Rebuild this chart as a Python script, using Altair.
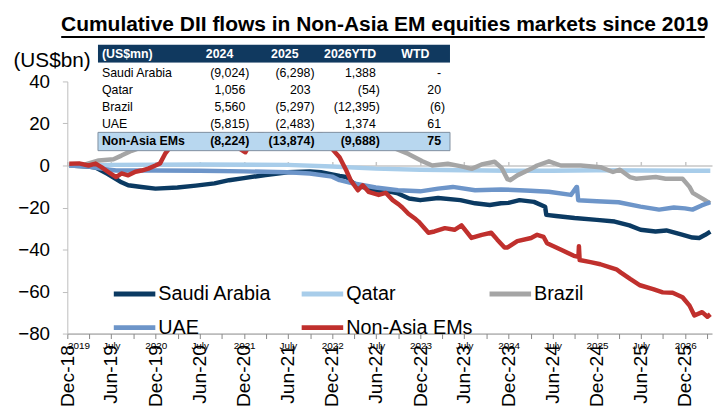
import altair as alt
import pandas as pd

TITLE = "Cumulative DII flows in Non-Asia EM equities markets since 2019"
Y_UNIT = "(US$bn)"

series_names = ["Saudi Arabia", "Qatar", "Brazil", "UAE", "Non-Asia EMs"]
series_colors = ["#0b3a62", "#a8cdea", "#a5a5a5", "#6d95c9", "#c0302d"]

saudi_dates = ["2019-01-08", "2019-02-18", "2019-03-29", "2019-04-27", "2019-06-15", "2019-07-21",
               "2019-08-12", "2019-09-09", "2019-11-03", "2019-12-31", "2020-03-31", "2020-06-15",
               "2020-08-31", "2020-10-31", "2020-12-31", "2021-03-31", "2021-06-30", "2021-09-30",
               "2021-11-15", "2021-12-31", "2022-01-31", "2022-02-28", "2022-03-31", "2022-04-30",
               "2022-06-30", "2022-08-31", "2022-09-30", "2022-11-15", "2022-12-31", "2023-03-15",
               "2023-06-15", "2023-08-15", "2023-10-15", "2023-11-30", "2023-12-31", "2024-02-15",
               "2024-04-15", "2024-05-31", "2024-06-05", "2024-07-15", "2024-09-30", "2024-12-31",
               "2025-03-15", "2025-05-15", "2025-06-30", "2025-08-31", "2025-10-15", "2025-12-15",
               "2026-01-31", "2026-02-28", "2026-03-25", "2026-04-15"]
saudi_values = [0.0, -0.3, -0.5, -1.0, -4.0, -6.5,
                -8.0, -9.4, -10.2, -11.0, -10.5, -9.6,
                -8.5, -7.0, -6.0, -4.5, -3.2, -2.8,
                -3.2, -4.2, -5.0, -5.5, -8.5, -10.0,
                -11.8, -12.5, -13.3, -15.7, -16.5, -15.5,
                -16.5, -18.0, -18.8, -18.0, -17.8, -16.5,
                -17.3, -19.6, -23.5, -24.0, -25.0, -25.9,
                -26.7, -28.5, -30.6, -31.4, -30.9, -32.8,
                -34.3, -34.5, -33.0, -31.5]

qatar_dates = ["2019-01-08", "2019-06-30", "2020-06-30", "2021-06-30", "2021-12-31", "2022-06-30",
               "2022-12-31", "2023-06-30", "2023-12-31", "2024-06-30", "2024-12-31", "2025-06-30",
               "2025-12-31", "2026-04-15"]
qatar_values = [0.0, 0.3, 0.5, 0.3, -0.5, -1.5,
                -2.0, -2.3, -2.5, -2.5, -2.3, -2.4,
                -2.5, -2.5]

brazil_dates = ["2019-01-08", "2019-03-15", "2019-05-10", "2019-07-10", "2019-08-12", "2019-09-23",
                "2019-11-03", "2019-12-31", "2020-06-30", "2020-12-31", "2021-06-30", "2021-12-31",
                "2022-04-30", "2022-07-31", "2022-09-20", "2022-11-12", "2023-01-09", "2023-02-19",
                "2023-04-24", "2023-06-20", "2023-08-01", "2023-09-11", "2023-11-04", "2023-12-02",
                "2023-12-27", "2024-01-08", "2024-02-06", "2024-04-03", "2024-04-28", "2024-06-16",
                "2024-08-04", "2024-10-25", "2025-01-15", "2025-03-08", "2025-04-06", "2025-05-17",
                "2025-06-11", "2025-09-01", "2025-10-12", "2025-12-21", "2026-01-19", "2026-02-01",
                "2026-03-24", "2026-04-14"]
brazil_values = [0.0, 0.5, 2.4, 3.0, 4.7, 7.0,
                 8.6, 14.0, 22.0, 28.0, 32.0, 25.0,
                 16.0, 11.0, 8.0, 5.5, 2.0, 0.0,
                 0.8, -0.4, -1.6, 0.5, 1.8, -1.0,
                 -6.5, -7.0, -4.7, -1.6, 0.0, 2.0,
                 0.0, 0.0, -0.8, -3.1, -2.0, -5.5,
                 -6.3, -5.5, -6.3, -6.3, -10.2, -13.0,
                 -16.5, -18.0]

uae_dates = ["2019-01-08", "2019-03-29", "2019-05-21", "2019-07-21", "2019-12-31", "2020-06-30",
             "2020-12-31", "2021-06-30", "2021-09-30", "2021-12-31", "2022-01-31", "2022-03-31",
             "2022-06-30", "2022-09-30", "2022-12-31", "2023-03-15", "2023-05-15", "2023-08-15",
             "2023-11-30", "2024-03-31", "2024-06-15", "2024-09-15", "2024-10-08", "2024-10-10",
             "2024-10-15", "2024-12-31", "2025-03-31", "2025-06-30", "2025-09-15", "2025-11-15",
             "2025-12-31", "2026-01-31", "2026-03-10", "2026-04-15"]
uae_values = [0.0, -0.5, -1.5, -2.4, -2.4, -2.5,
              -2.8, -3.2, -3.8, -5.3, -7.0, -8.6,
              -10.5, -11.8, -12.3, -11.0, -10.2, -11.8,
              -11.4, -12.0, -12.5, -14.0, -10.2, -10.2,
              -16.5, -17.0, -17.5, -19.6, -21.0, -20.0,
              -20.4, -21.0, -19.0, -17.5]

nonasia_dates = ["2019-01-08", "2019-02-18", "2019-03-29", "2019-04-27", "2019-05-21", "2019-06-27",
                 "2019-07-21", "2019-08-12", "2019-09-09", "2019-10-09", "2019-11-03", "2019-12-01",
                 "2019-12-31", "2020-01-19", "2020-02-09", "2020-02-29", "2020-03-12", "2020-04-30",
                 "2020-06-30", "2020-08-31", "2020-11-15", "2021-01-06", "2021-01-25", "2021-04-30",
                 "2021-08-31", "2021-11-15", "2021-12-31", "2022-01-31", "2022-02-28", "2022-03-18",
                 "2022-04-17", "2022-05-07", "2022-05-31", "2022-07-12", "2022-08-10", "2022-09-08",
                 "2022-10-03", "2022-10-18", "2022-11-12", "2022-12-12", "2022-12-24", "2023-02-03",
                 "2023-02-28", "2023-04-12", "2023-05-22", "2023-06-20", "2023-07-31", "2023-09-12",
                 "2023-10-21", "2023-11-15", "2023-12-15", "2023-12-28", "2024-02-06", "2024-04-03",
                 "2024-04-28", "2024-05-25", "2024-06-08", "2024-08-03", "2024-09-27", "2024-10-16",
                 "2024-10-18", "2024-10-21", "2024-12-05", "2025-01-15", "2025-02-27", "2025-03-22",
                 "2025-04-10", "2025-05-18", "2025-06-28", "2025-08-21", "2025-09-30", "2025-11-10",
                 "2025-12-21", "2026-01-19", "2026-02-08", "2026-03-12", "2026-04-03", "2026-04-15"]
nonasia_values = [0.8, 1.0, 0.0, 0.9, -0.8, -3.8,
                  -5.5, -3.8, -4.7, -3.0, -2.4, -1.5,
                  0.0, 1.0, 5.6, 8.6, 11.8, 18.0,
                  24.0, 17.0, 10.0, 6.3, 10.0, 22.0,
                  28.0, 15.0, 7.9, 3.9, -2.4, -7.0,
                  -11.8, -9.4, -12.5, -14.0, -13.0, -16.5,
                  -18.5, -20.0, -23.0, -25.5, -26.7, -32.0,
                  -31.4, -29.8, -30.6, -28.5, -34.5, -33.0,
                  -32.0, -35.3, -39.0, -39.0, -36.0, -34.5,
                  -33.0, -34.0, -37.0, -40.0, -43.0, -43.5,
                  -38.4, -45.0, -46.0, -47.0, -48.6, -49.4,
                  -51.0, -54.0, -57.0, -58.8, -60.4, -60.6,
                  -62.7, -66.7, -71.4, -69.8, -72.0, -70.8]

tick_dates = ["2018-12-31", "2019-06-30", "2019-12-31", "2020-06-30", "2020-12-31", "2021-06-30",
              "2021-12-31", "2022-06-30", "2022-12-31", "2023-06-30", "2023-12-31", "2024-06-30",
              "2024-12-31", "2025-06-30", "2025-12-31"]
x_domain = ["2018-12-31", "2026-04-22"]
y_ticks = [-80, -60, -40, -20, 0, 20, 40]
y_domain = [-80, 40]

table_header = ["(US$mn)", "2024", "2025", "2026YTD", "WTD"]
table_rows = ["Saudi Arabia", "Qatar", "Brazil", "UAE", "Non-Asia EMs"]
col_2024 = ["(9,024)", "1,056", "5,560", "(5,815)", "(8,224)"]
col_2025 = ["(6,298)", "203", "(5,297)", "(2,483)", "(13,874)"]
col_2026 = ["1,388", "(54)", "(12,395)", "1,374", "(9,688)"]
col_wtd = ["-", "20", "(6)", "61", "75"]

NAVY_HDR = "#10395f"
TOTAL_BG = "#b8d7ef"
FONT = "Liberation Sans"
TFS = 12.5


def dt(s):
    y, m, d = (int(p) for p in s.split("-"))
    return alt.DateTime(year=y, month=m, date=d)


frames = []
for name, ds, vs in [("Saudi Arabia", saudi_dates, saudi_values),
                     ("Qatar", qatar_dates, qatar_values),
                     ("Brazil", brazil_dates, brazil_values),
                     ("UAE", uae_dates, uae_values),
                     ("Non-Asia EMs", nonasia_dates, nonasia_values)]:
    frames.append(pd.DataFrame({"date": pd.to_datetime(ds), "value": vs, "series": name}))
df = pd.concat(frames, ignore_index=True)

x_scale = alt.Scale(domain=[dt(x_domain[0]), dt(x_domain[1])])
y_scale = alt.Scale(domain=y_domain, nice=False)
tick_vals = [dt(s) for s in tick_dates]

bottom_axis = alt.Axis(values=tick_vals, format="%b-%y", labelAngle=270, domain=False, ticks=False,
                       grid=False, labelFontSize=19.5, labelFont=FONT, labelColor="black",
                       labelPadding=11, title=None, labelOverlap=False, labelBound=False)
top_axis = alt.Axis(orient="top", offset=-85, values=tick_vals, labels=False, domain=True,
                    domainColor="#c6c6c6", domainWidth=1.5, ticks=True, tickColor="#c6c6c6",
                    tickSize=4, tickWidth=1.5, grid=False, title=None)
y_axis = alt.Axis(values=y_ticks, grid=False, domainColor="#bdbdbd", tickColor="#bdbdbd",
                  tickSize=5, labelFontSize=19, labelFont=FONT, labelColor="black",
                  labelPadding=13, title=Y_UNIT, titleAngle=0, titleX=-55, titleY=-15,
                  titleAlign="left", titleBaseline="alphabetic", titleFontSize=21,
                  titleFontWeight="normal", titleFont=FONT, titleColor="black")

legend = alt.Legend(title=None, orient="none", legendX=55, legendY=202, columns=3,
                    direction="horizontal",
                    symbolType="M-2,0H2", symbolSize=441, symbolStrokeWidth=5,
                    labelFontSize=20, labelFont=FONT, labelColor="black", labelOffset=11,
                    columnPadding=7, rowPadding=11, gridAlign="all", labelLimit=300)

lines = alt.Chart(df).mark_line(clip=True, strokeWidth=4.5, strokeJoin="round").encode(
    x=alt.X("date:T", scale=x_scale, axis=bottom_axis),
    y=alt.Y("value:Q", scale=y_scale, axis=y_axis),
    color=alt.Color("series:N", scale=alt.Scale(domain=series_names, range=series_colors),
                    legend=legend, sort=series_names),
)

zero_layer = alt.Chart(pd.DataFrame({"date": pd.to_datetime(tick_dates)})).mark_point(opacity=0).encode(
    x=alt.X("date:T", scale=x_scale, axis=top_axis)
)

# title underline, spanning the title's width (drawn on the time scale, outside the plot area)
underline_span = ["2018-12-07", "2026-03-23"]
underline_rule = alt.Chart(pd.DataFrame({"k": [0]})).mark_rule(color="black", strokeWidth=2, clip=False).encode(
    x=alt.datum(dt(underline_span[0])), x2=alt.datum(dt(underline_span[1])), y=alt.value(-45))

inner = alt.layer(lines, zero_layer, underline_rule).resolve_axis(x="independent")

title_df = pd.DataFrame({"t": [TITLE]})
title_text = alt.Chart(title_df).mark_text(
    font=FONT, fontSize=21.2, fontWeight="bold", align="center", baseline="alphabetic", color="black"
).encode(x=alt.value(321), y=alt.value(-51), text="t:N")
underline = alt.Chart(title_df).mark_rect(color="#000000").encode(
    x=alt.value(-6), x2=alt.value(644), y=alt.value(-46), y2=alt.value(-44))

one = pd.DataFrame({"k": [0]})
hdr_rect = alt.Chart(one).mark_rect(color=NAVY_HDR).encode(
    x=alt.value(31), x2=alt.value(387), y=alt.value(-37), y2=alt.value(-19))
body_rect = alt.Chart(one).mark_rect(color="white").encode(
    x=alt.value(31), x2=alt.value(387), y=alt.value(-19), y2=alt.value(51.5))
total_rect = alt.Chart(one).mark_rect(color=TOTAL_BG, stroke="#7f8f9f", strokeWidth=1).encode(
    x=alt.value(31), x2=alt.value(387), y=alt.value(51.5), y2=alt.value(70))

# table cells
cells = []
for r, (name, a, b, c, d) in enumerate(zip(table_rows, col_2024, col_2025, col_2026, col_wtd), start=1):
    for ci, v in enumerate([a, b, c, d], start=1):
        cells.append({"row": r, "col": ci, "txt": v, "paren": v.endswith(")"), "bold": r == 5})
cells = pd.DataFrame(cells)
labels_df = pd.DataFrame({"row": list(range(1, 6)), "txt": table_rows, "bold": [False] * 4 + [True]})
hdr_df = pd.DataFrame({"col": [1, 2, 3, 4], "txt": table_header[1:]})

row_y = alt.Y("row:Q", scale=alt.Scale(domain=[1, 5], range=[-8.3, 60.5]), axis=None)
table_layers = []
for bold in [False, True]:
    fw = "bold" if bold else "normal"
    table_layers.append(
        alt.Chart(labels_df[labels_df["bold"] == bold]).mark_text(
            align="left", baseline="middle", font=FONT, fontSize=TFS, fontWeight=fw, color="black"
        ).encode(x=alt.value(35), y=row_y, text="txt:N"))
    for paren in [True, False]:
        sub = cells[(cells["bold"] == bold) & (cells["paren"] == paren)]
        if len(sub) == 0:
            continue
        table_layers.append(
            alt.Chart(sub).mark_text(
                align="right", baseline="middle", font=FONT, fontSize=TFS, fontWeight=fw,
                color="black", dx=0 if paren else -4
            ).encode(
                x=alt.X("col:Q", scale=alt.Scale(domain=[1, 4], range=[184, 382]), axis=None),
                y=row_y, text="txt:N"))

hdr_first = alt.Chart(pd.DataFrame({"txt": [table_header[0]]})).mark_text(
    align="left", baseline="middle", font=FONT, fontSize=TFS, fontWeight="bold", color="white"
).encode(x=alt.value(35), y=alt.value(-28), text="txt:N")
hdr_rest = alt.Chart(hdr_df).mark_text(
    align="center", baseline="middle", font=FONT, fontSize=TFS, fontWeight="bold", color="white"
).encode(x=alt.X("col:Q", scale=alt.Scale(domain=[1, 4], range=[154, 352]), axis=None),
         y=alt.value(-28), text="txt:N")

chart = alt.layer(
    inner, hdr_rect, body_rect, total_rect, *table_layers, hdr_first, hdr_rest, title_text, underline
).resolve_scale(x="independent", y="independent").properties(
    width=652, height=255,
    autosize=alt.AutoSizeParams(type="none"),
    padding={"left": 60, "top": 72, "right": 1, "bottom": 74},
).configure_view(stroke=None)

chart.save("out.html", embed_options={"renderer": "svg", "actions": False})
